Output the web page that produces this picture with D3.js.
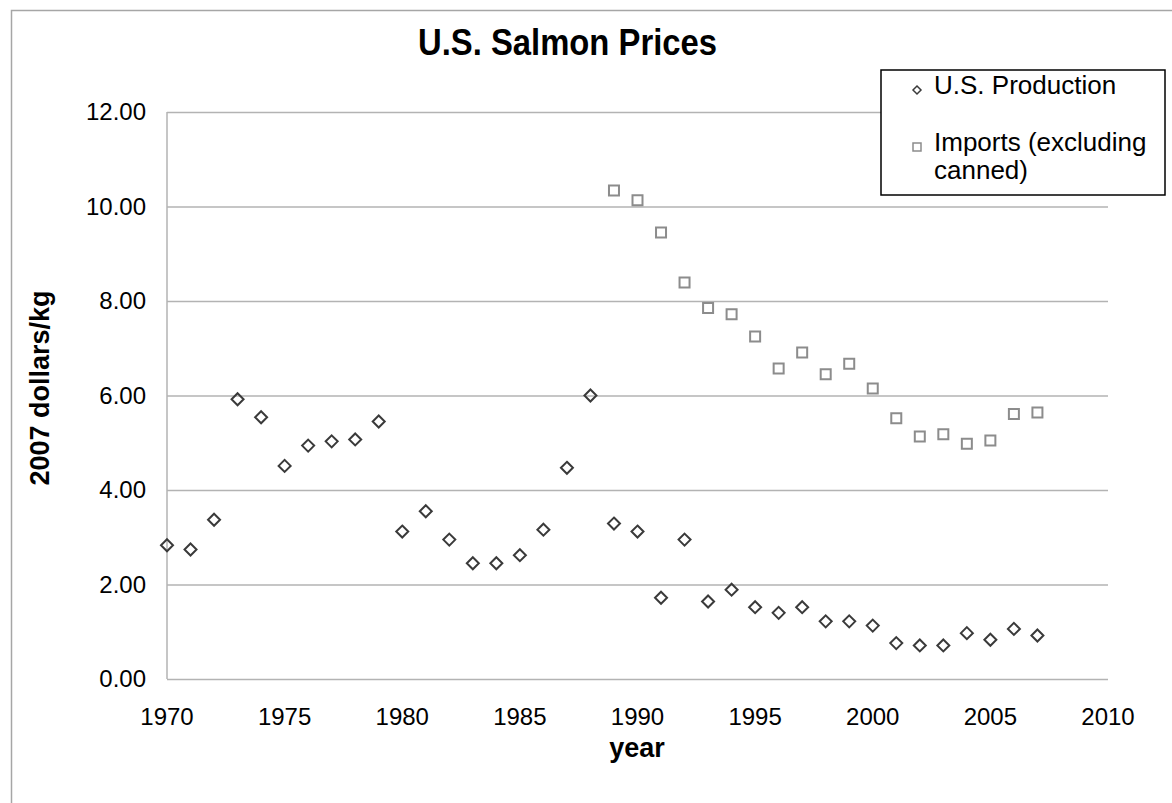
<!DOCTYPE html>
<html>
<head>
<meta charset="utf-8">
<script src="https://cdn.jsdelivr.net/npm/d3@7"></script>
<style>
  html, body { margin: 0; padding: 0; background: #fff; }
  svg { display: block; font-family: Arial, "Liberation Sans", sans-serif; }
</style>
</head>
<body>
<div id="chart"></div>
<script>
// U.S. salmon prices, 2007 dollars/kg
const prodYears = d3.range(1970, 2008);
const prodValues = [
  2.83, 2.74, 3.37, 5.92, 5.54, 4.51, 4.94, 5.03, 5.07, 5.45,
  3.12, 3.55, 2.95, 2.45, 2.45, 2.62, 3.16, 4.47, 6.00, 3.29,
  3.12, 1.72, 2.95, 1.64, 1.89, 1.52, 1.40, 1.52, 1.22, 1.22,
  1.13, 0.76, 0.71, 0.71, 0.97, 0.83, 1.06, 0.92
];
const importYears = d3.range(1989, 2008);
const importValues = [
  10.34, 10.13, 9.45, 8.39, 7.85, 7.72, 7.25, 6.57, 6.91, 6.45,
  6.67, 6.15, 5.52, 5.13, 5.18, 4.98, 5.05, 5.61, 5.64
];
const xTicks = [1970, 1975, 1980, 1985, 1990, 1995, 2000, 2005, 2010];
const yTicks = [0, 2, 4, 6, 8, 10, 12];
const legendLabels = [["U.S. Production"], ["Imports (excluding", "canned)"]];

const W = 1172, H = 803;
const margin = { left: 167, top: 112, right: W - 1108, bottom: H - 679 };

const svg = d3.select('#chart').append('svg').attr('width', W).attr('height', H);

// outer chart frame (only top + left visible)
svg.append('path')
  .attr('d', `M11.5,${H} V10.5 H${W}`)
  .attr('fill', 'none').attr('stroke', '#a6a6a6').attr('stroke-width', 1.5);

const x = d3.scaleLinear().domain([1970, 2010]).range([margin.left, W - margin.right]);
const y = d3.scaleLinear().domain([0, 12]).range([H - margin.bottom, margin.top]);

// gridlines
svg.append('g')
  .attr('transform', `translate(${margin.left},0)`)
  .call(d3.axisLeft(y).tickValues(yTicks).tickSize(-(x(2010) - x(1970))).tickFormat(''))
  .call(g => g.select('.domain').remove())
  .call(g => g.selectAll('line').attr('stroke', '#b3b3b3').attr('stroke-width', 1.5));

// left axis line
svg.append('line')
  .attr('x1', x(1970)).attr('x2', x(1970)).attr('y1', y(12)).attr('y2', y(0))
  .attr('stroke', '#b3b3b3').attr('stroke-width', 1.5);

// y tick labels
svg.append('g')
  .selectAll('text').data(yTicks).join('text')
  .attr('x', 146).attr('y', d => y(d)).attr('dy', '0.35em')
  .attr('text-anchor', 'end').style('font-size', '24px').attr('fill', '#000')
  .text(d => d3.format('.2f')(d));

// x tick labels
svg.append('g')
  .selectAll('text').data(xTicks).join('text')
  .attr('x', d => x(d)).attr('y', 725)
  .attr('text-anchor', 'middle').style('font-size', '24px').attr('fill', '#000')
  .text(d => d);

// titles
svg.append('text')
  .attr('x', 418).attr('y', 55)
  .attr('textLength', 299).attr('lengthAdjust', 'spacingAndGlyphs')
  .style('font-size', '36px').style('font-weight', 'bold').text('U.S. Salmon Prices');

svg.append('text')
  .attr('x', 637).attr('y', 757).attr('text-anchor', 'middle')
  .style('font-size', '27px').style('font-weight', 'bold').text('year');

svg.append('text')
  .attr('transform', 'translate(49,388) rotate(-90)')
  .attr('text-anchor', 'middle')
  .style('font-size', '27px').style('font-weight', 'bold').text('2007 dollars/kg');

// markers
const diamond = s => `M0,${-s}L${s},0L0,${s}L${-s},0Z`;
const square = s => `M${-s},${-s}H${s}V${s}H${-s}Z`;

svg.append('g')
  .selectAll('path').data(importYears.map((yr, i) => [yr, importValues[i]])).join('path')
  .attr('transform', d => `translate(${x(d[0])},${y(d[1])})`)
  .attr('d', square(5))
  .attr('fill', 'none').attr('stroke', '#8c8c8c').attr('stroke-width', 2);

svg.append('g')
  .selectAll('path').data(prodYears.map((yr, i) => [yr, prodValues[i]])).join('path')
  .attr('transform', d => `translate(${x(d[0])},${y(d[1])})`)
  .attr('d', diamond(6))
  .attr('fill', 'none').attr('stroke', '#3a3a3a').attr('stroke-width', 2);

// legend
const lg = svg.append('g');
lg.append('rect')
  .attr('x', 881).attr('y', 70).attr('width', 284).attr('height', 125)
  .attr('fill', '#fff').attr('stroke', '#000').attr('stroke-width', 1.5);
lg.append('path').attr('transform', 'translate(917,90)').attr('d', diamond(4))
  .attr('fill', 'none').attr('stroke', '#3a3a3a').attr('stroke-width', 1.5);
lg.append('path').attr('transform', 'translate(917,147)').attr('d', square(4))
  .attr('fill', 'none').attr('stroke', '#8c8c8c').attr('stroke-width', 1.5);
const legendY = [[94], [151, 179]];
legendLabels.forEach((lines, i) => {
  lines.forEach((t, j) => {
    lg.append('text').attr('x', 934).attr('y', legendY[i][j])
      .style('font-size', '26px').attr('fill', '#000').text(t);
  });
});
</script>
</body>
</html>
